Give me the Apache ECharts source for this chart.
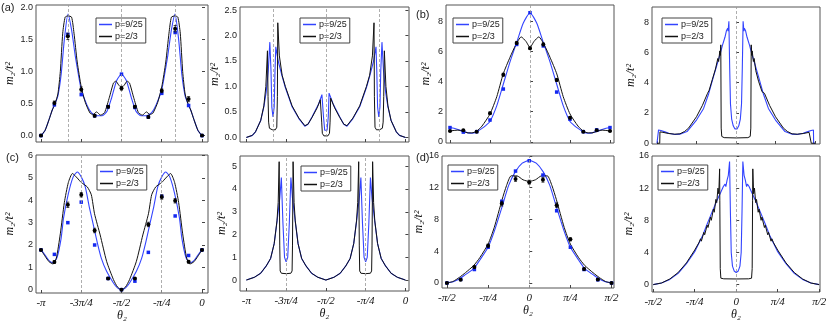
<!DOCTYPE html>
<html>
<head>
<meta charset="utf-8">
<script src="https://cdn.jsdelivr.net/npm/echarts@6/dist/echarts.min.js"></script>
<style>html,body{margin:0;padding:0;background:#fff}#chart{width:830px;height:325px}</style>
</head>
<body>
<div id="chart"></div>
<script>
// theta_2 is stored in units of pi/4
var thetaTicksA = [-4, -3, -2, -1, 0];
var thetaLabelsA = ['-π', '-3π/4', '-π/2', '-π/4', '0'];
var thetaTicksB = [-2, -1, 0, 1, 2];
var thetaLabelsB = ['-π/2', '-π/4', '0', 'π/4', 'π/2'];

var ptThetaA = [-4, -3.667, -3.333, -3, -2.667, -2.333, -2, -1.667, -1.333, -1, -0.667, -0.333, 0];
var ptThetaB = [-2, -1.667, -1.333, -1, -0.667, -0.333, 0, 0.333, 0.667, 1, 1.333, 1.667, 2];

// (a) left
var aLeftBlue = [[-4,0],[-3.9,0.08],[-3.8,0.25],[-3.72,0.4],[-3.65,0.5],[-3.58,0.62],[-3.5,0.95],[-3.42,1.5],[-3.33,1.9],[-3.24,1.65],[-3.15,1.25],[-3.07,0.95],[-3,0.72],[-2.86,0.48],[-2.75,0.36],[-2.62,0.31],[-2.48,0.31],[-2.36,0.38],[-2.25,0.58],[-2.12,0.86],[-2,0.96],[-1.88,0.86],[-1.75,0.58],[-1.64,0.38],[-1.52,0.31],[-1.38,0.31],[-1.25,0.36],[-1.14,0.48],[-1,0.72],[-0.93,0.95],[-0.85,1.25],[-0.76,1.65],[-0.67,1.9],[-0.58,1.5],[-0.5,0.95],[-0.42,0.62],[-0.35,0.5],[-0.28,0.4],[-0.2,0.25],[-0.1,0.08],[0,0]];
var aLeftBlack = [[-4,0],[-3.9,0.08],[-3.8,0.25],[-3.72,0.4],[-3.65,0.5],[-3.58,0.65],[-3.52,1.0],[-3.46,1.6],[-3.4,1.85],[-3.33,1.87],[-3.24,1.85],[-3.18,1.6],[-3.1,1.15],[-3,0.76],[-2.9,0.52],[-2.78,0.35],[-2.7,0.33],[-2.62,0.37],[-2.52,0.32],[-2.42,0.36],[-2.3,0.6],[-2.2,0.82],[-2.14,0.85],[-2.07,0.79],[-2,0.75],[-1.93,0.79],[-1.86,0.85],[-1.8,0.82],[-1.7,0.6],[-1.58,0.36],[-1.48,0.32],[-1.38,0.37],[-1.3,0.33],[-1.22,0.35],[-1.1,0.52],[-1,0.76],[-0.9,1.15],[-0.82,1.6],[-0.76,1.85],[-0.67,1.87],[-0.6,1.85],[-0.54,1.6],[-0.48,1.0],[-0.42,0.65],[-0.35,0.5],[-0.28,0.4],[-0.2,0.25],[-0.1,0.08],[0,0]];
var aLeftPtsBlack = [0, 0.51, 1.55, 0.72, 0.31, 0.45, 0.74, 0.45, 0.29, 0.70, 1.67, 0.57, 0];
var aLeftErrBlack = [0.01, 0.03, 0.05, 0.04, 0.02, 0.02, 0.03, 0.02, 0.02, 0.03, 0.05, 0.04, 0.01];
var aLeftPtsBlue = [0, 0.48, 1.58, 0.64, 0.31, 0.45, 0.96, 0.44, 0.29, 0.66, 1.61, 0.47, 0];

// (a) right
var aRightBlue = [[-4,0],[-3.85,0.04],[-3.77,0.11],[-3.64,0.33],[-3.56,0.6],[-3.5,0.9],[-3.45,1.3],[-3.41,1.87],[-3.38,1.3],[-3.36,0.6],[-3.33,0.4],[-3.3,0.6],[-3.28,1.3],[-3.26,1.78],[-3.2,1.5],[-3.1,1.2],[-3.02,0.98],[-2.85,0.6],[-2.68,0.37],[-2.53,0.22],[-2.45,0.26],[-2.35,0.4],[-2.18,0.66],[-2.1,0.84],[-2.08,0.87],[-2.06,0.4],[-2.03,0.14],[-2,0.11],[-1.97,0.14],[-1.94,0.4],[-1.92,0.87],[-1.9,0.84],[-1.82,0.66],[-1.65,0.4],[-1.55,0.26],[-1.47,0.22],[-1.32,0.37],[-1.15,0.6],[-0.98,0.98],[-0.9,1.2],[-0.8,1.5],[-0.74,1.78],[-0.72,1.3],[-0.7,0.6],[-0.67,0.4],[-0.64,0.6],[-0.62,1.3],[-0.59,1.87],[-0.55,1.3],[-0.5,0.9],[-0.44,0.6],[-0.36,0.33],[-0.23,0.11],[-0.15,0.04],[0,0]];
var aRightBlack = [[-4,0],[-3.85,0.04],[-3.77,0.11],[-3.64,0.33],[-3.56,0.62],[-3.51,1.0],[-3.47,1.7],[-3.455,0.8],[-3.44,0.3],[-3.42,0.18],[-3.35,0.15],[-3.27,0.15],[-3.235,0.2],[-3.22,0.8],[-3.21,2.25],[-3.17,1.6],[-3.1,1.22],[-3.02,1.0],[-2.85,0.62],[-2.68,0.38],[-2.53,0.23],[-2.45,0.26],[-2.35,0.39],[-2.22,0.58],[-2.14,0.74],[-2.12,0.77],[-2.105,0.3],[-2.09,0.08],[-2.05,0.03],[-1.95,0.03],[-1.91,0.08],[-1.895,0.3],[-1.88,0.77],[-1.86,0.74],[-1.78,0.58],[-1.65,0.39],[-1.55,0.26],[-1.47,0.23],[-1.32,0.38],[-1.15,0.62],[-0.98,1.0],[-0.9,1.22],[-0.83,1.6],[-0.79,2.25],[-0.78,0.8],[-0.765,0.2],[-0.73,0.15],[-0.65,0.15],[-0.58,0.18],[-0.56,0.3],[-0.545,0.8],[-0.53,1.7],[-0.49,1.0],[-0.44,0.62],[-0.36,0.33],[-0.23,0.11],[-0.15,0.04],[0,0]];

// (b) left
var bLeftBlue = [[-2,0.95],[-1.9,0.9],[-1.78,0.8],[-1.67,0.7],[-1.55,0.6],[-1.45,0.58],[-1.33,0.68],[-1.2,0.9],[-1.1,1.1],[-1,1.35],[-0.83,2.4],[-0.67,3.8],[-0.5,5.3],[-0.33,6.6],[-0.17,7.85],[0,8.55],[0.17,7.85],[0.33,6.6],[0.5,5.3],[0.67,3.8],[0.83,2.4],[1,1.35],[1.1,1.1],[1.2,0.9],[1.33,0.68],[1.45,0.58],[1.55,0.6],[1.67,0.7],[1.78,0.8],[1.9,0.9],[2,0.95]];
var bLeftBlack = [[-2,0.72],[-1.9,0.76],[-1.8,0.78],[-1.67,0.7],[-1.55,0.6],[-1.45,0.6],[-1.33,0.72],[-1.2,1.05],[-1,1.85],[-0.83,3.0],[-0.67,4.5],[-0.5,5.6],[-0.36,6.4],[-0.22,6.95],[-0.1,6.65],[0,6.25],[0.1,6.65],[0.22,6.95],[0.36,6.4],[0.5,5.6],[0.67,4.5],[0.83,3.0],[1,1.85],[1.2,1.05],[1.33,0.72],[1.45,0.6],[1.55,0.6],[1.67,0.7],[1.8,0.78],[1.9,0.76],[2,0.72]];
var bLeftPtsBlack = [0.72, 0.78, 0.68, 1.9, 4.45, 6.55, 6.2, 6.45, 4.1, 1.6, 0.68, 0.78, 0.72];
var bLeftErrBlack = [0.03, 0.03, 0.03, 0.08, 0.1, 0.1, 0.08, 0.1, 0.1, 0.08, 0.03, 0.03, 0.03];
var bLeftPtsBlue = [0.95, 0.65, 0.68, 1.45, 3.5, 6.45, 8.55, 6.35, 3.3, 1.5, 0.68, 0.8, 0.95];

// (b) right
var bRightBlue = [[-2,0],[-1.965,0],[-1.96,0.88],[-1.9,0.84],[-1.8,0.75],[-1.7,0.66],[-1.55,0.58],[-1.42,0.6],[-1.24,0.77],[-1,1.53],[-0.82,2.3],[-0.7,3.2],[-0.57,4.4],[-0.48,5.2],[-0.4,5.9],[-0.34,6.5],[-0.28,7.0],[-0.24,7.45],[-0.21,7.6],[-0.2,7.4],[-0.18,8.05],[-0.16,5.0],[-0.14,2.6],[-0.11,1.6],[-0.07,1.15],[-0.03,0.95],[0,0.92],[0.03,0.95],[0.07,1.15],[0.11,1.6],[0.14,2.6],[0.16,5.0],[0.18,8.05],[0.2,7.4],[0.21,7.6],[0.24,7.45],[0.28,7.0],[0.34,6.5],[0.4,5.9],[0.48,5.2],[0.57,4.4],[0.7,3.2],[0.82,2.3],[1,1.53],[1.24,0.77],[1.42,0.6],[1.55,0.58],[1.7,0.66],[1.8,0.75],[1.9,0.84],[1.96,0.88],[1.965,0],[2,0]];
var bRightBlack = [[-2,0],[-1.93,0],[-1.925,0.75],[-1.85,0.72],[-1.7,0.64],[-1.55,0.6],[-1.42,0.62],[-1.3,0.78],[-1.2,1.0],[-1,1.75],[-0.85,2.5],[-0.72,3.3],[-0.68,3.5],[-0.66,3.4],[-0.6,4.2],[-0.57,4.1],[-0.52,4.9],[-0.5,4.8],[-0.46,5.6],[-0.44,5.4],[-0.41,6.1],[-0.4,5.8],[-0.385,6.5],[-0.375,1.0],[-0.36,0.45],[-0.3,0.37],[0,0.35],[0.3,0.37],[0.36,0.45],[0.375,1.0],[0.385,6.5],[0.4,5.8],[0.41,6.1],[0.44,5.4],[0.46,5.6],[0.5,4.8],[0.52,4.9],[0.57,4.1],[0.6,4.2],[0.66,3.4],[0.68,3.5],[0.72,3.3],[0.85,2.5],[1,1.75],[1.2,1.0],[1.3,0.78],[1.42,0.62],[1.55,0.6],[1.7,0.64],[1.85,0.72],[1.9,0.75],[1.905,0],[2,0]];

// (c) left
var cLeftBlue = [[-4,1.78],[-3.9,1.55],[-3.8,1.3],[-3.7,1.2],[-3.6,1.45],[-3.5,2.3],[-3.44,3.2],[-3.32,4.3],[-3.2,5.05],[-3.1,5.27],[-3,5.05],[-2.9,4.6],[-2.8,3.7],[-2.7,2.9],[-2.6,2.1],[-2.5,1.4],[-2.37,0.82],[-2.2,0.3],[-2.1,0.08],[-2,0],[-1.9,0.08],[-1.8,0.3],[-1.63,0.82],[-1.5,1.4],[-1.4,2.1],[-1.3,2.9],[-1.2,3.7],[-1.1,4.6],[-1,5.05],[-0.9,5.27],[-0.8,5.05],[-0.68,4.3],[-0.56,3.2],[-0.5,2.3],[-0.4,1.45],[-0.3,1.2],[-0.2,1.3],[-0.1,1.55],[0,1.78]];
var cLeftBlack = [[-4,1.78],[-3.9,1.5],[-3.8,1.25],[-3.7,1.15],[-3.62,1.4],[-3.52,2.5],[-3.42,3.9],[-3.32,4.8],[-3.22,5.2],[-3.1,5.0],[-3,4.8],[-2.85,4.6],[-2.75,4.25],[-2.67,3.4],[-2.53,2.45],[-2.37,1.27],[-2.2,0.45],[-2.1,0.12],[-2,0],[-1.9,0.12],[-1.8,0.45],[-1.63,1.27],[-1.47,2.45],[-1.33,3.4],[-1.25,4.25],[-1.15,4.6],[-1,4.8],[-0.9,5.0],[-0.78,5.2],[-0.68,4.8],[-0.58,3.9],[-0.48,2.5],[-0.38,1.4],[-0.3,1.15],[-0.2,1.25],[-0.1,1.5],[0,1.78]];
var cLeftPtsBlack = [1.78, 1.24, 3.8, 4.25, 2.65, 0.5, 0, 0.5, 2.92, 4.15, 3.98, 1.25, 1.78];
var cLeftErrBlack = [0.03, 0.06, 0.12, 0.1, 0.1, 0.04, 0.02, 0.04, 0.1, 0.1, 0.1, 0.06, 0.03];
var cLeftPtsBlue = [1.78, 1.58, 3.0, 3.92, 2.0, 0.5, 0, 0.38, 1.67, 4.18, 3.3, 1.53, 1.78];

// (c) right
var cRightBlue = [[-4,0],[-3.8,0.12],[-3.64,0.3],[-3.5,0.62],[-3.39,0.95],[-3.3,1.6],[-3.23,2.56],[-3.16,3.6],[-3.12,4.5],[-3.08,2.5],[-3.04,1.0],[-3,0.8],[-2.96,1.0],[-2.92,2.5],[-2.88,4.5],[-2.84,3.6],[-2.77,2.56],[-2.7,1.6],[-2.61,0.95],[-2.5,0.62],[-2.36,0.3],[-2.2,0.12],[-2,0],[-1.8,0.12],[-1.64,0.3],[-1.5,0.62],[-1.39,0.95],[-1.3,1.6],[-1.23,2.56],[-1.16,3.6],[-1.12,4.5],[-1.08,2.5],[-1.04,1.0],[-1,0.8],[-0.96,1.0],[-0.92,2.5],[-0.88,4.5],[-0.84,3.6],[-0.77,2.56],[-0.7,1.6],[-0.61,0.95],[-0.5,0.62],[-0.36,0.3],[-0.2,0.12],[0,0]];
var cRightBlack = [[-4,0],[-3.8,0.12],[-3.64,0.3],[-3.5,0.62],[-3.39,0.95],[-3.3,1.6],[-3.23,2.6],[-3.2,3.4],[-3.175,5.2],[-3.16,1.5],[-3.15,0.4],[-3.12,0.3],[-3,0.28],[-2.88,0.3],[-2.85,0.4],[-2.84,1.5],[-2.825,5.2],[-2.8,3.4],[-2.77,2.6],[-2.7,1.6],[-2.61,0.95],[-2.5,0.62],[-2.36,0.3],[-2.2,0.12],[-2,0],[-1.8,0.12],[-1.64,0.3],[-1.5,0.62],[-1.39,0.95],[-1.3,1.6],[-1.23,2.6],[-1.2,3.4],[-1.175,5.2],[-1.16,1.5],[-1.15,0.4],[-1.12,0.3],[-1,0.28],[-0.88,0.3],[-0.85,0.4],[-0.84,1.5],[-0.825,5.2],[-0.8,3.4],[-0.77,2.6],[-0.7,1.6],[-0.61,0.95],[-0.5,0.62],[-0.36,0.3],[-0.2,0.12],[0,0]];

// (d) left
var dLeftBlue = [[-2,0],[-1.85,0.15],[-1.7,0.5],[-1.55,1.05],[-1.35,1.8],[-1.2,2.9],[-1,4.5],[-0.85,6.5],[-0.66,9.6],[-0.5,12.3],[-0.34,14.0],[-0.17,15.1],[0,15.45],[0.17,15.1],[0.34,14.0],[0.5,12.3],[0.66,9.6],[0.85,6.5],[1,4.5],[1.2,2.9],[1.35,1.8],[1.55,1.05],[1.7,0.5],[1.85,0.15],[2,0]];
var dLeftBlack = [[-2,0],[-1.85,0.2],[-1.7,0.7],[-1.55,1.3],[-1.35,2.2],[-1.2,3.2],[-1,4.9],[-0.85,7.0],[-0.66,10.5],[-0.55,12.3],[-0.44,13.5],[-0.3,13.5],[-0.15,13.0],[0,12.8],[0.15,13.0],[0.3,13.5],[0.44,13.5],[0.55,12.3],[0.66,10.5],[0.85,7.0],[1,4.9],[1.2,3.2],[1.35,2.2],[1.55,1.3],[1.7,0.7],[1.85,0.2],[2,0]];
var dLeftPtsBlack = [0, 0.42, 2.0, 4.7, 10.0, 13.1, 12.7, 13.0, 9.8, 5.5, 1.75, 0.45, 0];
var dLeftErrBlack = [0.05, 0.1, 0.15, 0.2, 0.3, 0.3, 0.25, 0.3, 0.3, 0.2, 0.15, 0.1, 0.05];
var dLeftPtsBlue = [0, 0.45, 1.7, 4.5, 10.3, 14.1, 15.4, 13.6, 9.1, 4.5, 1.7, 0.4, 0];

// (d) right
var dRightBlue = [[-2,0],[-1.8,0.2],[-1.6,0.65],[-1.4,1.4],[-1.2,2.6],[-1,4.1],[-0.8,6.2],[-0.72,7.3],[-0.6,8.8],[-0.47,10.4],[-0.38,11.4],[-0.31,12.2],[-0.27,12.5],[-0.25,12.2],[-0.22,13.0],[-0.19,13.6],[-0.16,15.3],[-0.14,9.0],[-0.12,4.0],[-0.09,2.3],[-0.05,1.7],[0,1.5],[0.05,1.7],[0.09,2.3],[0.12,4.0],[0.14,9.0],[0.16,15.3],[0.19,13.6],[0.22,13.0],[0.25,12.2],[0.27,12.5],[0.31,12.2],[0.38,11.4],[0.47,10.4],[0.6,8.8],[0.72,7.3],[0.8,6.2],[1,4.1],[1.2,2.6],[1.4,1.4],[1.6,0.65],[1.8,0.2],[2,0]];
var dRightBlack = [[-2,0],[-1.8,0.2],[-1.6,0.7],[-1.4,1.5],[-1.2,2.7],[-1,4.3],[-0.9,5.2],[-0.86,5.7],[-0.84,5.4],[-0.78,6.5],[-0.76,6.2],[-0.7,7.4],[-0.68,7.1],[-0.62,8.4],[-0.6,8.0],[-0.55,9.4],[-0.53,9.0],[-0.49,10.6],[-0.47,10.2],[-0.44,12.0],[-0.42,11.3],[-0.4,14.4],[-0.395,10.5],[-0.385,2.0],[-0.37,0.8],[-0.3,0.72],[0,0.7],[0.3,0.72],[0.37,0.8],[0.385,2.0],[0.395,10.5],[0.4,14.4],[0.42,11.3],[0.44,12.0],[0.47,10.2],[0.49,10.6],[0.53,9.0],[0.55,9.4],[0.6,8.0],[0.62,8.4],[0.68,7.1],[0.7,7.4],[0.76,6.2],[0.78,6.5],[0.84,5.4],[0.86,5.7],[0.9,5.2],[1,4.3],[1.2,2.7],[1.4,1.5],[1.6,0.7],[1.8,0.2],[2,0]];

var yTicksA1 = [0, 0.5, 1, 1.5, 2];
var yTicksA2 = [0, 0.5, 1, 1.5, 2, 2.5];
var yTicksB = [0, 2, 4, 6, 8];
var yTicksC1 = [0, 1, 2, 3, 4, 5, 6];
var yTicksC2 = [0, 1, 2, 3, 4, 5];
var yTicksD = [0, 4, 8, 12, 16];

var BLUE = '#3344ff';
var BLACK = '#111';
var serif = 'Liberation Serif, DejaVu Serif, serif';
var sans = 'Liberation Sans, Arial, sans-serif';

var panels = [
    {grid: {left: 36, top: 5, width: 172, height: 137}, x: [-4.124, 0.149], y: [-0.1, 2.04], xt: 'A', yt: yTicksA1, dec: 1, bottom: false, gap: 20,
     legend: [96, 18], vlines: [-3.333, -2, -0.667], blue: aLeftBlue, black: aLeftBlack, smooth: true,
     pts: {blue: aLeftPtsBlue, black: aLeftPtsBlack, err: aLeftErrBlack, x: ptThetaA}},
    {grid: {left: 240, top: 7, width: 169, height: 135}, x: [-4.16, 0.09], y: [-0.09, 2.56], xt: 'A', yt: yTicksA2, dec: 1, bottom: false, gap: 11,
     legend: [300, 18], vlines: [-3.333, -2, -0.667], blue: aRightBlue, black: aRightBlack, smooth: false},
    {grid: {left: 446, top: 5, width: 168, height: 138}, x: [-2.1, 2.1], y: [-0.07, 9.06], xt: 'B', yt: yTicksB, dec: 0, bottom: false, gap: 14,
     legend: [453, 18], vlines: [0], blue: bLeftBlue, black: bLeftBlack, smooth: true,
     pts: {blue: bLeftPtsBlue, black: bLeftPtsBlack, err: bLeftErrBlack, x: ptThetaB}},
    {grid: {left: 652, top: 7, width: 168, height: 137}, x: [-2.126, 2.126], y: [-0.05, 9.0], xt: 'B', yt: yTicksB, dec: 0, bottom: false, gap: 15,
     legend: [662, 18], vlines: [0], blue: bRightBlue, black: bRightBlack, smooth: false},
    {grid: {left: 36, top: 155, width: 172, height: 138}, x: [-4.124, 0.149], y: [-0.15, 6.03], xt: 'A', yt: yTicksC1, dec: 0, bottom: true, gap: 20,
     legend: [97, 165], vlines: [-3, -1], blue: cLeftBlue, black: cLeftBlack, smooth: true,
     pts: {blue: cLeftPtsBlue, black: cLeftPtsBlack, err: cLeftErrBlack, x: ptThetaA}},
    {grid: {left: 240, top: 156, width: 169, height: 135}, x: [-4.16, 0.09], y: [-0.48, 5.45], xt: 'A', yt: yTicksC2, dec: 0, bottom: true, gap: 10,
     legend: [301, 166], vlines: [-3, -1], blue: cRightBlue, black: cRightBlack, smooth: false},
    {grid: {left: 442, top: 156, width: 172, height: 132}, x: [-2.12, 2.06], y: [-0.63, 16], xt: 'B', yt: yTicksD, dec: 0, bottom: true, gap: 16,
     legend: [448, 165], vlines: [0], blue: dLeftBlue, black: dLeftBlack, smooth: true,
     pts: {blue: dLeftPtsBlue, black: dLeftPtsBlack, err: dLeftErrBlack, x: ptThetaB}},
    {grid: {left: 652, top: 156, width: 168, height: 136}, x: [-2.03, 2.02], y: [-0.92, 16], xt: 'B', yt: yTicksD, dec: 0, bottom: true, gap: 14,
     legend: [658, 165], vlines: [0], blue: dRightBlue, black: dRightBlack, smooth: false}
];

var panelTags = [['(a)', 1, 2], ['(b)', 416, 9], ['(c)', 6, 152], ['(d)', 416, 152]];

function errorBar(params, api) {
    var x = api.value(0), y = api.value(1), e = api.value(2);
    var hi = api.coord([x, y + e]);
    var lo = api.coord([x, y - e]);
    var w = 1.5;
    var style = {stroke: '#000', lineWidth: 0.7};
    return {
        type: 'group',
        children: [
            {type: 'line', shape: {x1: hi[0], y1: hi[1], x2: lo[0], y2: lo[1]}, style: style},
            {type: 'line', shape: {x1: hi[0] - w, y1: hi[1], x2: hi[0] + w, y2: hi[1]}, style: style},
            {type: 'line', shape: {x1: lo[0] - w, y1: lo[1], x2: lo[0] + w, y2: lo[1]}, style: style}
        ]
    };
}

var grids = [], xAxes = [], yAxes = [], legends = [], series = [];

panels.forEach(function (p, i) {
    var ticks = p.xt === 'A' ? thetaTicksA : thetaTicksB;
    var labels = p.xt === 'A' ? thetaLabelsA : thetaLabelsB;
    grids.push(Object.assign({show: true, borderColor: '#555', borderWidth: 1, outerBoundsMode: 'none', containLabel: false}, p.grid));
    xAxes.push({
        type: 'value', gridIndex: i, min: p.x[0], max: p.x[1],
        axisLine: {show: false, onZero: false},
        axisTick: {show: true, inside: true, length: 3, customValues: ticks, lineStyle: {color: '#444'}},
        splitLine: {show: false},
        axisLabel: {show: p.bottom, customValues: ticks, margin: 5, fontFamily: serif, fontStyle: 'italic', fontSize: 11, color: '#111',
            formatter: function (v) { var k = ticks.indexOf(v); return k < 0 ? '' : labels[k]; }},
        name: p.bottom ? 'θ₂' : '', nameLocation: 'middle', nameGap: 17,
        nameTextStyle: {fontFamily: serif, fontStyle: 'italic', fontSize: 12, color: '#111'}
    });
    yAxes.push({
        type: 'value', gridIndex: i, min: p.y[0], max: p.y[1],
        axisLine: {show: false},
        axisTick: {show: true, inside: true, length: 3, customValues: p.yt, lineStyle: {color: '#444'}},
        splitLine: {show: false},
        axisLabel: {customValues: p.yt, margin: 3, fontFamily: sans, fontSize: 9, color: '#222',
            formatter: (function (d) { return function (v) { return v.toFixed(d); }; })(p.dec)},
        name: 'm₂/t²', nameLocation: 'middle', nameGap: p.gap, nameRotate: 90,
        nameTextStyle: {fontFamily: serif, fontStyle: 'italic', fontSize: 12, color: '#111'}
    });
    legends.push({
        left: p.legend[0], top: p.legend[1], orient: 'vertical',
        data: ['p=9/25', 'p=2/3'], icon: 'rect', itemWidth: 13, itemHeight: 1.5, itemGap: 3,
        padding: [2, 3, 2, 3], borderColor: '#444', borderWidth: 1, backgroundColor: '#fff',
        selectedMode: false,
        textStyle: {fontFamily: sans, fontSize: 9, color: '#222', padding: [0, 0, 0, -2]}
    });
    series.push({
        type: 'line', name: 'p=9/25', xAxisIndex: i, yAxisIndex: i, data: p.blue,
        smooth: p.smooth ? 0.2 : false, showSymbol: false, color: BLUE, lineStyle: {width: 1.1, color: BLUE},
        markLine: {silent: true, symbol: ['none', 'none'], label: {show: false},
            lineStyle: {color: '#999', type: [3, 2], width: 0.8},
            data: p.vlines.map(function (v) { return {xAxis: v}; })}
    });
    series.push({
        type: 'line', name: 'p=2/3', xAxisIndex: i, yAxisIndex: i, data: p.black,
        smooth: p.smooth ? 0.2 : false, showSymbol: false, color: BLACK, lineStyle: {width: 1, color: BLACK}
    });
    if (p.pts) {
        series.push({
            type: 'scatter', name: 'blue pts', xAxisIndex: i, yAxisIndex: i, symbol: 'rect', symbolSize: 3.5,
            itemStyle: {color: '#1428f0', opacity: 1}, z: 4,
            data: p.pts.x.map(function (t, k) { return [t, p.pts.blue[k]]; })
        });
        series.push({
            type: 'custom', name: 'err', xAxisIndex: i, yAxisIndex: i, renderItem: errorBar, z: 5,
            data: p.pts.x.map(function (t, k) { return [t, p.pts.black[k], p.pts.err[k]]; })
        });
        series.push({
            type: 'scatter', name: 'black pts', xAxisIndex: i, yAxisIndex: i, symbol: 'circle', symbolSize: 4,
            itemStyle: {color: '#000', opacity: 1}, z: 6,
            data: p.pts.x.map(function (t, k) { return [t, p.pts.black[k]]; })
        });
    }
});

var chart = echarts.init(document.getElementById('chart'));
chart.setOption({
    animation: false,
    backgroundColor: '#fff',
    title: panelTags.map(function (t) {
        return {text: t[0], left: t[1], top: t[2], padding: 0,
            textStyle: {fontFamily: sans, fontSize: 11, fontWeight: 'normal', color: '#222'}};
    }),
    legend: legends,
    grid: grids,
    xAxis: xAxes,
    yAxis: yAxes,
    series: series
});
</script>
</body>
</html>
